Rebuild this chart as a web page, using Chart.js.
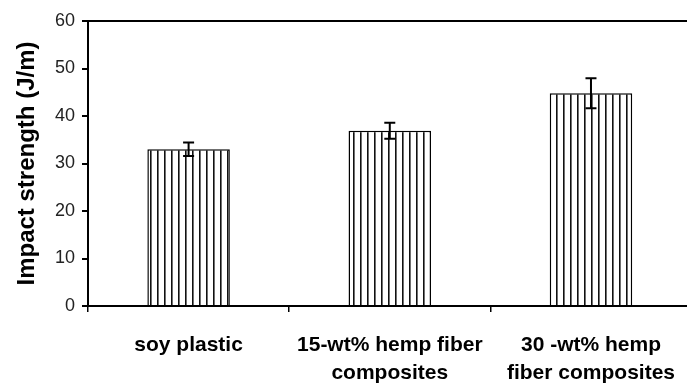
<!DOCTYPE html>
<html>
<head>
<meta charset="utf-8">
<script src="https://cdn.jsdelivr.net/npm/chart.js@4"></script>
<style>
    html, body { margin: 0; padding: 0; background: #fff; overflow: hidden; }
    #wrap { width: 694px; height: 385px; position: relative; }
</style>
</head>
<body>
<div id="wrap"><canvas id="impactChart"></canvas></div>
<script>
// === Data ===
const categories = [
    ['soy plastic'],
    ['15-wt% hemp fiber', 'composites'],
    ['30 -wt% hemp', 'fiber composites']
];
const impactStrength = [33, 36.9, 44.8];
const errorAmount = [1.4, 1.7, 3.15];
const yTicks = [0, 10, 20, 30, 40, 50, 60];

// === Vertical stripe fill for the bars ===
function makeStripes() {
    const c = document.createElement('canvas');
    c.width = 7;
    c.height = 4;
    const g = c.getContext('2d');
    g.fillStyle = '#fff';
    g.fillRect(0, 0, 7, 4);
    g.fillStyle = '#111';
    g.fillRect(3, 0, 1.6, 4);
    return g.createPattern(c, 'repeat');
}

// === Error bars, drawn from the bar elements and the y scale ===
const errorBars = {
    id: 'errorBars',
    afterDatasetsDraw(chart) {
        const ctx = chart.ctx;
        const yScale = chart.scales.y;
        const meta = chart.getDatasetMeta(0);
        ctx.save();
        ctx.strokeStyle = '#000';
        ctx.lineWidth = 2;
        meta.data.forEach((bar, i) => {
            const hi = yScale.getPixelForValue(impactStrength[i] + errorAmount[i]);
            const lo = yScale.getPixelForValue(impactStrength[i] - errorAmount[i]);
            const cap = 5.5;
            ctx.beginPath();
            ctx.moveTo(bar.x, hi);
            ctx.lineTo(bar.x, lo);
            ctx.moveTo(bar.x - cap, hi);
            ctx.lineTo(bar.x + cap, hi);
            ctx.moveTo(bar.x - cap, lo);
            ctx.lineTo(bar.x + cap, lo);
            ctx.stroke();
        });
        ctx.restore();
    }
};

const ctx = document.getElementById('impactChart').getContext('2d');
new Chart(ctx, {
    type: 'bar',
    data: {
        labels: categories,
        datasets: [{
            data: impactStrength,
            backgroundColor: makeStripes(),
            borderColor: '#000',
            borderWidth: 1.5,
            categoryPercentage: 1,
            barPercentage: 0.41
        }]
    },
    options: {
        responsive: true,
        maintainAspectRatio: false,
        animation: false,
        layout: { padding: { top: 21, right: 0, left: 0, bottom: 0 } },
        plugins: {
            legend: { display: false },
            tooltip: { enabled: false }
        },
        scales: {
            x: {
                afterFit(scale) { scale.height = 79; },
                border: { color: '#000', width: 2 },
                grid: {
                    offset: true,
                    drawOnChartArea: false,
                    tickLength: 6,
                    color: '#000',
                    lineWidth: 1.5
                },
                ticks: {
                    padding: 19,
                    color: '#000',
                    maxRotation: 0,
                    font: { family: 'Liberation Sans, Arial, sans-serif', size: 21, weight: 'bold', lineHeight: 1.35 }
                }
            },
            y: {
                min: 0,
                max: 60,
                afterFit(scale) { scale.width = 88; },
                afterBuildTicks(scale) { scale.ticks = yTicks.map(v => ({ value: v })); },
                border: { color: '#000', width: 2 },
                grid: {
                    drawOnChartArea: true,
                    tickLength: 6,
                    lineWidth: 2,
                    color: c => (c.tick && c.tick.value === 60 ? '#000' : 'rgba(0,0,0,0)'),
                    tickColor: '#000'
                },
                ticks: {
                    padding: 7,
                    color: '#222',
                    font: { family: 'Liberation Sans, Arial, sans-serif', size: 18 }
                },
                title: {
                    display: true,
                    text: 'Impact strength (J/m)',
                    color: '#000',
                    padding: { top: 13, bottom: 0 },
                    font: { family: 'Liberation Sans, Arial, sans-serif', size: 24, weight: 'bold' }
                }
            }
        }
    },
    plugins: [errorBars]
});
</script>
</body>
</html>
